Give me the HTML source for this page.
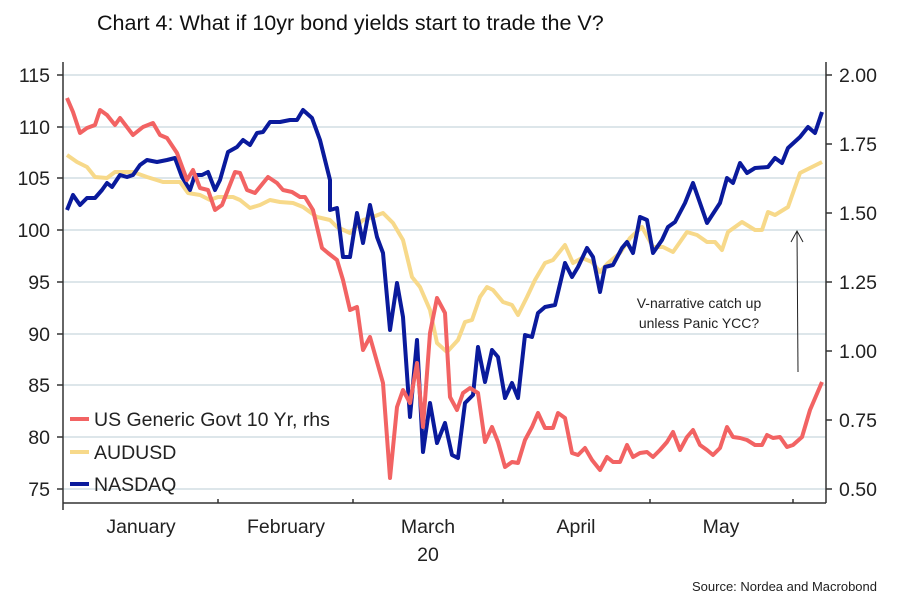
<!DOCTYPE html>
<html><head><meta charset="utf-8"><style>
body{margin:0;background:#fff;width:908px;height:611px;overflow:hidden;font-family:"Liberation Sans",sans-serif}
</style></head><body>
<svg width="908" height="611" viewBox="0 0 908 611" xmlns="http://www.w3.org/2000/svg" font-family="Liberation Sans, sans-serif">
<text x="97" y="30" font-size="21.5" fill="#111">Chart 4: What if 10yr bond yields start to trade the V?</text>
<g stroke="#dde6ea" stroke-width="2">
<line x1="63" x2="826" y1="75" y2="75"/><line x1="63" x2="826" y1="127" y2="127"/><line x1="63" x2="826" y1="178" y2="178"/><line x1="63" x2="826" y1="230" y2="230"/><line x1="63" x2="826" y1="282" y2="282"/><line x1="63" x2="826" y1="334" y2="334"/><line x1="63" x2="826" y1="385" y2="385"/><line x1="63" x2="826" y1="437" y2="437"/><line x1="63" x2="826" y1="489" y2="489"/>
</g>
<g stroke="#333" stroke-width="1.5" fill="none">
<line x1="63" y1="62" x2="63" y2="510"/><line x1="826" y1="62" x2="826" y2="503"/><line x1="63" y1="503" x2="826" y2="503"/>
<path d="M57 75h6M57 127h6M57 178h6M57 230h6M57 282h6M57 334h6M57 385h6M57 437h6M57 489h6M826 75h6M826 144h6M826 213h6M826 282h6M826 351h6M826 420h6M826 489h6M218 503v-4M353 503v-4M503 503v-4M650 503v-4M793 503v-4"/>
</g>
<g font-size="19.5" fill="#222" text-anchor="end">
<text x="50" y="82">115</text><text x="50" y="134">110</text><text x="50" y="185">105</text><text x="50" y="237">100</text><text x="50" y="289">95</text><text x="50" y="341">90</text><text x="50" y="392">85</text><text x="50" y="444">80</text><text x="50" y="496">75</text>
</g>
<g font-size="19.5" fill="#222">
<text x="839" y="82">2.00</text><text x="839" y="151">1.75</text><text x="839" y="220">1.50</text><text x="839" y="289">1.25</text><text x="839" y="358">1.00</text><text x="839" y="427">0.75</text><text x="839" y="496">0.50</text>
</g>
<g font-size="19.5" fill="#222" text-anchor="middle">
<text x="141" y="533">January</text><text x="286" y="533">February</text><text x="428" y="533">March</text><text x="428" y="561">20</text><text x="576" y="533">April</text><text x="721" y="533">May</text>
</g>
<g fill="none" stroke-width="4" stroke-linejoin="round">
<polyline stroke="#f7d98a" points="67,155 77,162 87,167 95,177 107,178 115,172 133,172 147,177 163,182 180,182 188,193 200,195 210,200 218,197 233,197 240,200 250,208 260,205 270,200 280,202 293,203 303,207 317,217 330,220 337,227 350,233 363,220 370,218 383,213 393,223 403,240 412,277 420,287 430,310 437,343 447,352 458,340 465,322 472,320 480,297 487,287 493,290 503,302 512,305 518,315 527,297 535,280 545,263 553,260 565,245 573,263 582,258 592,262 600,272 608,263 620,253 630,238 642,227 653,247 663,247 673,252 687,232 697,235 707,242 715,242 722,250 728,232 742,222 755,230 762,230 768,212 775,215 788,207 800,173 810,168 822,162"/>
<polyline stroke="#0a1a9c" points="67,210 73,195 80,205 87,198 95,198 102,190 107,183 112,187 120,175 127,177 133,175 140,165 147,160 157,162 167,160 175,158 182,177 190,190 195,175 202,175 208,172 215,190 220,180 228,152 237,147 243,140 250,145 257,133 263,132 270,122 280,122 290,120 297,120 303,110 312,118 320,140 330,180 330,210 337,208 343,257 350,257 357,213 363,243 370,205 377,237 383,253 390,330 397,283 403,317 410,417 417,340 423,452 430,403 437,443 445,423 452,455 458,458 465,403 473,395 478,347 485,382 492,350 498,357 505,398 512,383 518,398 525,335 532,337 538,313 545,307 555,305 565,263 572,277 578,267 587,248 593,257 600,292 605,267 613,265 622,248 627,242 633,253 640,217 647,220 653,253 662,240 668,227 675,222 685,203 693,183 707,223 720,203 727,178 733,183 740,163 747,173 755,168 768,167 775,158 782,163 788,148 800,137 808,127 815,133 822,112"/>
<polyline stroke="#f26363" points="67,98 73,112 80,133 87,128 95,125 100,110 107,115 115,125 120,118 133,135 143,127 153,123 160,135 167,138 177,153 187,180 193,170 200,188 208,190 215,210 222,205 235,172 240,173 247,190 255,193 268,177 277,183 283,190 292,192 300,197 305,197 313,210 322,248 328,253 337,260 343,280 350,310 357,307 363,350 370,337 383,383 390,478 397,407 403,390 410,403 417,363 423,427 430,333 437,298 445,313 450,397 457,410 463,393 470,388 478,393 485,442 492,427 498,442 505,467 512,462 518,463 525,440 532,427 538,413 545,428 553,428 558,413 565,418 572,453 578,455 585,448 592,460 600,470 607,457 613,462 620,462 627,445 633,457 640,453 647,452 653,457 660,450 667,442 673,432 680,450 687,437 693,430 700,445 707,450 713,455 720,448 727,427 733,437 740,438 747,440 755,445 762,445 767,435 773,438 780,437 787,447 793,445 802,437 810,410 822,382"/>
</g>
<g stroke-width="4"><line x1="70" x2="89" y1="419" y2="419" stroke="#f26363"/><line x1="70" x2="89" y1="452" y2="452" stroke="#f7d98a"/><line x1="70" x2="89" y1="484" y2="484" stroke="#0a1a9c"/></g>
<g font-size="19.5" fill="#222"><text x="94" y="426">US Generic Govt 10 Yr, rhs</text><text x="94" y="459">AUDUSD</text><text x="94" y="491">NASDAQ</text></g>
<g font-size="14" fill="#222" text-anchor="middle"><text x="699" y="308">V-narrative catch up</text><text x="699" y="328">unless Panic YCC?</text></g>
<line x1="798" y1="372" x2="797" y2="232" stroke="#222" stroke-width="1"/>
<path d="M791 242 L797 231 L803 242" fill="none" stroke="#222" stroke-width="1"/>
<text x="877" y="591" font-size="13" fill="#222" text-anchor="end">Source: Nordea and Macrobond</text>
</svg>
</body></html>
